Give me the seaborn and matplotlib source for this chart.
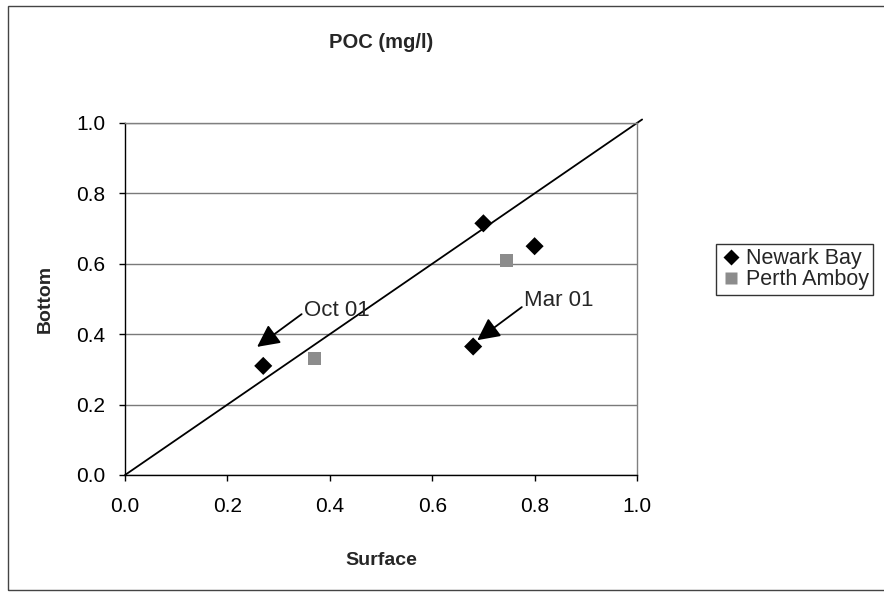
import pandas as pd
import matplotlib
matplotlib.use('Agg')
import matplotlib.pyplot as plt
from matplotlib.patches import Rectangle
import seaborn as sns

# values
sites = ['Newark Bay', 'Newark Bay', 'Newark Bay', 'Newark Bay', 'Perth Amboy', 'Perth Amboy']
surface = [0.27, 0.68, 0.70, 0.80, 0.37, 0.745]
bottom = [0.31, 0.365, 0.715, 0.65, 0.33, 0.61]

# annotations: label, text position, arrow tail, arrow tip
notes = ['Oct 01', 'Mar 01']
note_xy = [(0.35, 0.466), (0.78, 0.497)]
arrow_tail = [(0.345, 0.457), (0.775, 0.477)]
arrow_tip = [(0.258, 0.364), (0.688, 0.383)]

ticks = [0.0, 0.2, 0.4, 0.6, 0.8, 1.0]
tick_labels = ['0.0', '0.2', '0.4', '0.6', '0.8', '1.0']

df = pd.DataFrame({'Site': sites, 'Surface': surface, 'Bottom': bottom})

sns.set_style('white')
plt.rcParams['font.family'] = ['Liberation Sans', 'DejaVu Sans']

fig = plt.figure(figsize=(8.84, 5.95), dpi=100)
ax = fig.add_axes([125 / 884, 120 / 595, 512 / 884, 352 / 595])

# 1:1 line
ax.plot([0, 1.01], [0, 1.01], color='black', lw=1.3, clip_on=False, zorder=2)

sns.scatterplot(data=df, x='Surface', y='Bottom', hue='Site', style='Site',
                palette={'Newark Bay': 'black', 'Perth Amboy': '#8c8c8c'},
                markers={'Newark Bay': 'D', 'Perth Amboy': 's'},
                s=85, edgecolor='none', ax=ax, zorder=3)

for label, pos, tail, tip in zip(notes, note_xy, arrow_tail, arrow_tip):
    ax.text(pos[0], pos[1], label, fontsize=16, va='center', ha='left')
    ax.annotate('', xy=tip, xytext=tail,
                arrowprops=dict(arrowstyle='-|>', color='black', lw=1.3,
                                mutation_scale=34, shrinkA=0, shrinkB=0))

ax.set_xlim(0, 1)
ax.set_ylim(0, 1)
ax.set_xticks(ticks)
ax.set_yticks(ticks)
ax.set_xticklabels(tick_labels)
ax.set_yticklabels(tick_labels)
ax.tick_params(axis='both', labelsize=15, colors='black', length=4, width=1,
               direction='out', bottom=True, left=True)
ax.tick_params(axis='x', pad=12)
ax.tick_params(axis='y', pad=10)
ax.yaxis.grid(True, color='#7a7a7a', lw=1)
ax.xaxis.grid(False)
for side in ['top', 'right']:
    ax.spines[side].set_color('#808080')
    ax.spines[side].set_linewidth(1)
for side in ['left', 'bottom']:
    ax.spines[side].set_color('black')
    ax.spines[side].set_linewidth(1)

ax.set_xlabel('Surface', fontsize=14, fontweight='bold')
ax.set_ylabel('Bottom', fontsize=14, fontweight='bold')
ax.xaxis.set_label_coords(0.5, -0.22)
ax.yaxis.set_label_coords(-0.14, 0.5)

fig.text(381 / 884, 1 - 48 / 595, 'POC (mg/l)', fontsize=14.5, fontweight='bold',
         ha='center', va='baseline')

sns.move_legend(ax, 'upper left', bbox_to_anchor=(1.154, 0.656), title=None,
                frameon=True, fancybox=False, fontsize=15.5, labelspacing=0.0,
                handletextpad=0.2, borderpad=0.2, handlelength=1.0,
                borderaxespad=0, markerscale=0.9)
leg = ax.get_legend()
leg.get_frame().set_edgecolor('black')
leg.get_frame().set_linewidth(1)

# outer chart border
fig.patches.append(Rectangle((0.009, 0.008), 1.2, 0.982, transform=fig.transFigure,
                             fill=False, edgecolor='#444444', lw=1))

fig.savefig('out.png', dpi=100)
